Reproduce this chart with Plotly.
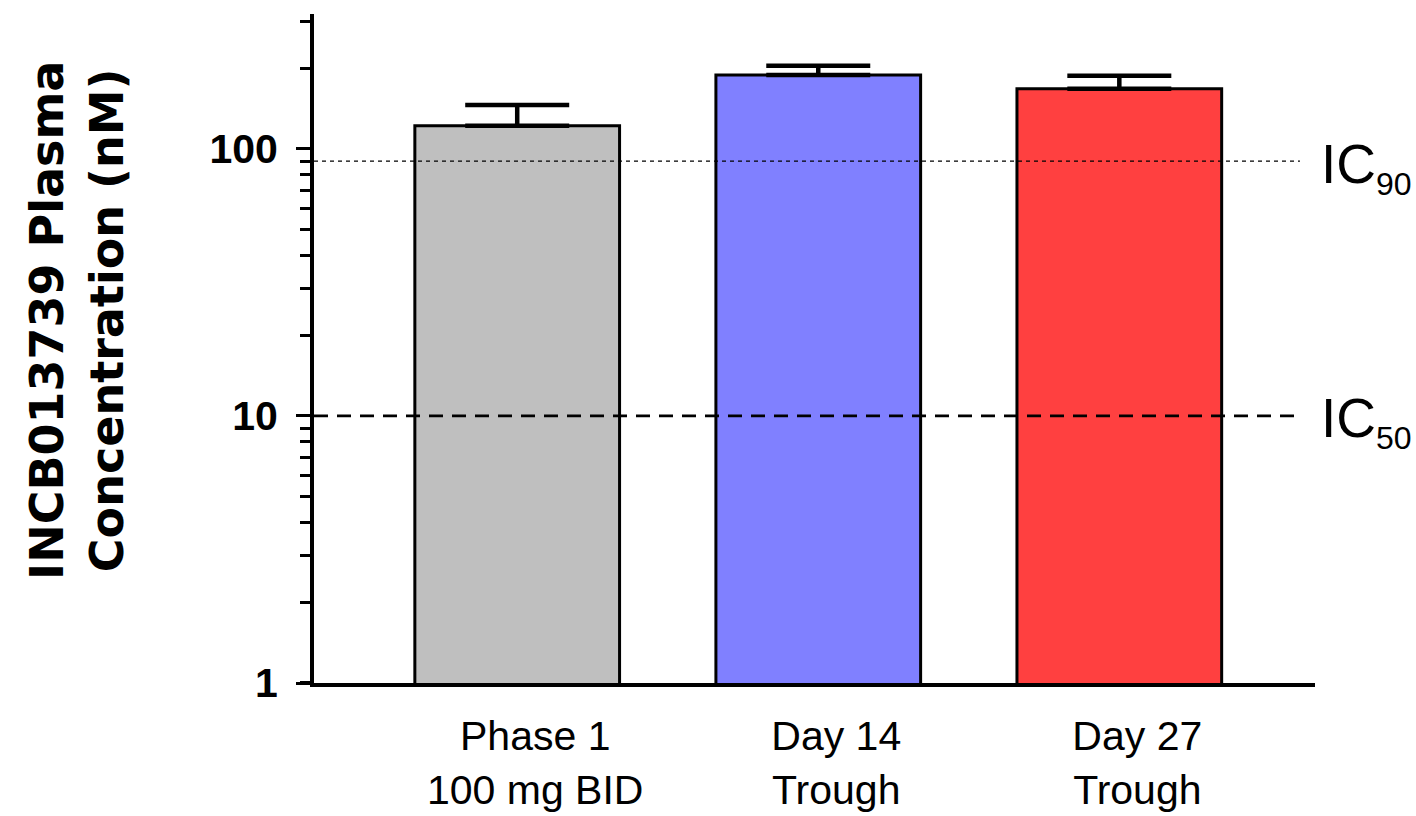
import numpy as np
import plotly.graph_objects as go

categories = ["Phase 1<br>100 mg BID", "Day 14<br>Trough", "Day 27<br>Trough"]
means = [122, 189, 168]
sem_upper = [24, 16, 20]
colors = ["#bfbfbf", "#8080ff", "#ff4040"]
ic_values = [90, 10]
ic_labels = ["IC<sub><span style='font-size:32px'>90</span></sub>",
             "IC<sub><span style='font-size:32px'>50</span></sub>"]
y_title = "INCB013739 Plasma<br>Concentration (nM)"

x = list(range(len(categories)))

fig = go.Figure()
fig.add_trace(go.Bar(
    x=x, y=means, width=0.68,
    marker=dict(color=colors, line=dict(color="black", width=3)),
    error_y=dict(type="data", array=sem_upper, arrayminus=[0] * 3, symmetric=False,
                 color="black", thickness=4.5, width=52),
    showlegend=False,
))

# IC reference lines
fig.add_trace(go.Scatter(x=[-0.675, 2.6], y=[ic_values[0]] * 2, mode="lines",
                         line=dict(color="black", width=1.4, dash="4px,4px"), showlegend=False))
fig.add_trace(go.Scatter(x=[-0.675, 2.6], y=[ic_values[1]] * 2, mode="lines",
                         line=dict(color="black", width=2.8, dash="14px,9px"), showlegend=False))

for v, lab in zip(ic_values, ic_labels):
    fig.add_annotation(x=1.0, xref="paper", xanchor="left", xshift=4, y=np.log10(v), yref="y",
                       yanchor="middle", text=lab, showarrow=False, yshift=-6,
                       font=dict(family="Liberation Sans, Arial", size=55, color="black"))

# y-axis title
fig.add_annotation(x=-0.2368, y=0.5426, xref="paper", yref="paper", xanchor="center", yanchor="middle",
                   text=y_title, textangle=-90, showarrow=False,
                   font=dict(family="DejaVu Sans, Liberation Sans", size=46, color="black", weight="bold"))

# small extension of the x-axis line to the left of the y axis
fig.add_shape(type="line", xref="paper", yref="paper", x0=-0.014, x1=0, y0=0, y1=0,
              line=dict(color="black", width=4))

fig.update_xaxes(
    range=[-0.675, 2.65], tickvals=x, ticktext=categories,
    showline=True, linecolor="black", linewidth=4, ticks="",
    tickfont=dict(family="Liberation Sans, Arial", size=41, color="black"),
    ticklabelstandoff=14, ticklabelshift=18, automargin=False,
    showgrid=False, zeroline=False,
)
fig.update_yaxes(
    type="log", range=[0, np.log10(320)],
    tickvals=[1, 10, 100], ticktext=["1", "10", "100"],
    showline=True, linecolor="black", linewidth=4,
    ticks="outside", ticklen=14, tickwidth=3, tickcolor="black",
    minor=dict(tickvals=[2, 3, 4, 5, 6, 7, 8, 9, 20, 30, 40, 50, 60, 70, 80, 90, 200, 300],
               ticks="outside", ticklen=10, tickwidth=3, tickcolor="black"),
    tickfont=dict(family="Liberation Sans, Arial", size=41, color="black", weight="bold"),
    ticklabelstandoff=10, automargin=False,
    showgrid=False, zeroline=False,
)
fig.update_layout(
    width=1416, height=816,
    margin=dict(l=314, r=101, t=14, b=133),
    plot_bgcolor="white", paper_bgcolor="white",
    bargap=0.3,
)
fig.write_html("out.html")
